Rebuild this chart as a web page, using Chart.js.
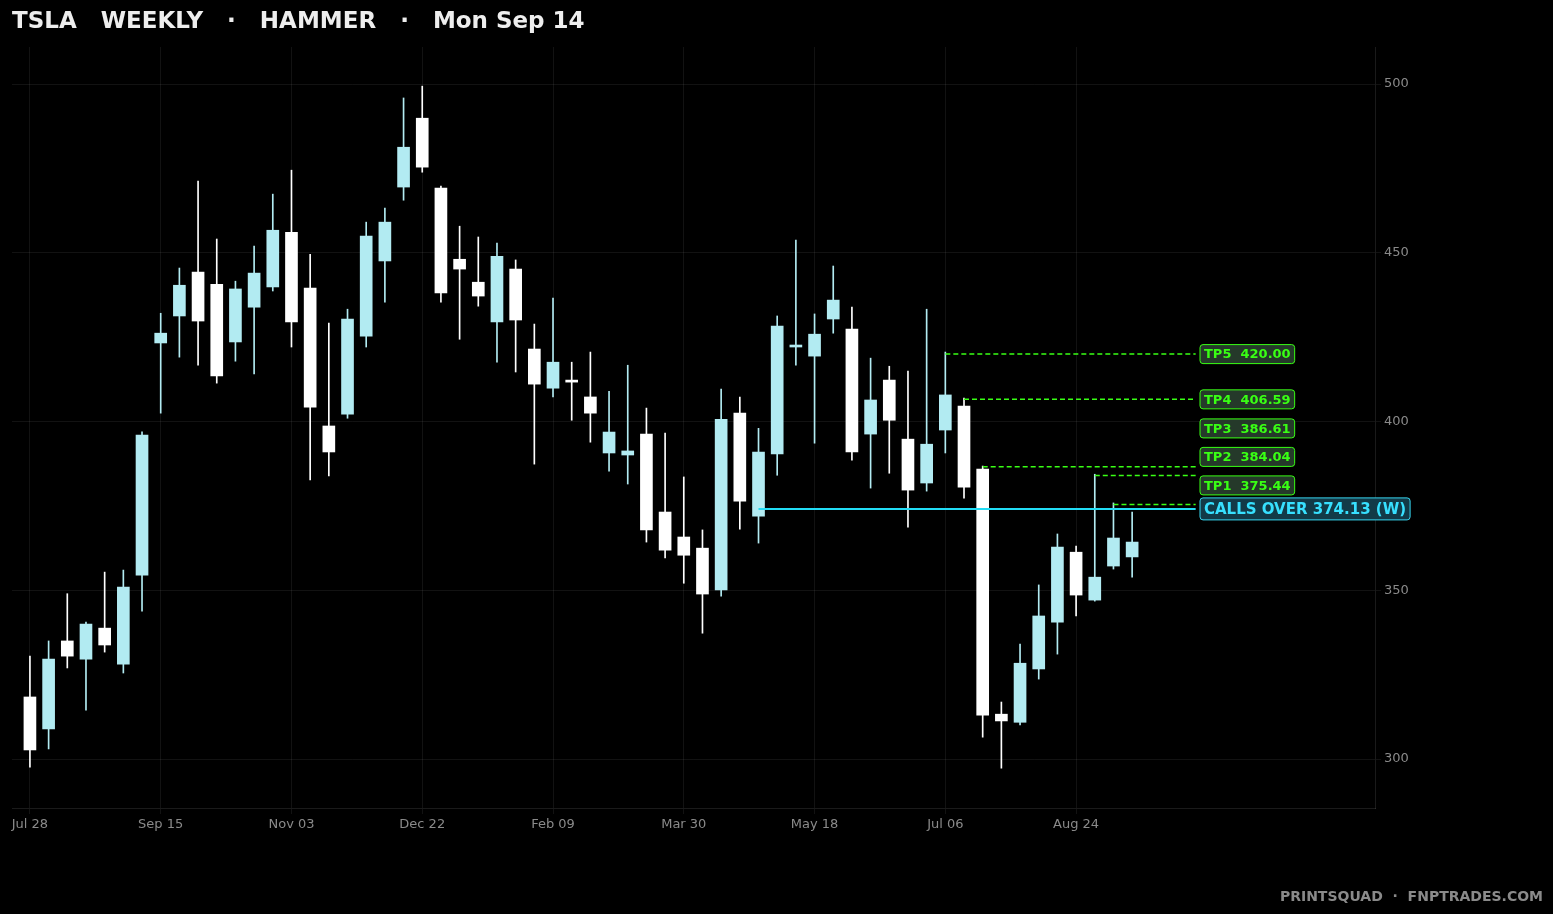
<!DOCTYPE html>
<html>
<head>
<meta charset="utf-8">
<script src="https://cdn.jsdelivr.net/npm/chart.js@4.4.1/dist/chart.umd.min.js"></script>
<style>
  html, body { margin: 0; padding: 0; background: #000; }
  #wrap { width: 1553px; height: 914px; }
</style>
</head>
<body>
<div id="wrap"><canvas id="chart" width="1553" height="914"></canvas></div>
<script>
// weekly candles, Jul 28 onwards
const opens  = [318.4,308.9,335.0,329.6,338.8,328.1,354.5,423.3,431.3,444.3,440.7,423.6,433.9,439.9,456.1,439.6,398.7,402.2,425.3,447.6,
                469.5,489.9,469.2,448.1,441.3,429.5,445.2,421.5,409.9,412.3,407.3,390.7,390.1,396.3,373.2,365.8,362.5,350.1,402.5,372.0,
                390.4,422.1,419.4,430.4,427.4,396.3,412.3,394.8,381.8,397.5,404.6,385.9,313.3,310.9,326.7,340.6,361.3,347.1,357.2,359.9];
const highs  = [330.5,335.0,349.0,340.6,355.4,356.0,397.0,432.1,445.5,471.3,454.1,441.6,452.0,467.4,474.5,449.6,429.2,433.3,459.1,463.3,
                495.9,499.4,469.8,457.9,454.7,452.9,447.9,428.9,436.6,417.6,420.6,409.0,416.7,404.0,396.6,383.6,367.9,409.6,407.3,398.0,
                431.3,453.8,431.9,446.1,433.9,418.8,416.4,415.0,433.3,420.6,407.0,386.8,316.9,334.1,351.6,366.7,363.1,384.4,375.9,373.2];
const lows   = [297.6,303.0,327.0,314.5,331.7,325.5,343.8,402.5,419.1,416.7,411.4,417.9,414.1,438.7,422.1,382.7,383.9,401.0,422.1,435.4,
                465.6,473.9,435.4,424.4,434.2,417.6,414.7,387.4,407.3,400.4,393.9,385.3,381.5,364.3,359.6,352.1,337.3,348.3,368.1,364.0,
                384.1,416.7,393.6,426.2,388.6,380.3,384.7,368.7,379.4,390.7,377.3,306.5,297.3,310.1,323.7,331.1,342.4,346.8,356.3,353.9];
const closes = [302.7,329.6,330.5,340.0,333.8,351.0,396.0,426.2,440.4,429.8,413.5,439.3,444.0,456.7,429.5,404.3,391.0,430.4,455.0,459.1,
                481.3,475.4,438.1,445.2,437.2,449.0,430.1,411.1,417.6,411.7,402.5,396.9,391.3,367.9,361.9,360.4,348.9,400.7,376.4,391.0,
                428.3,422.4,425.9,436.0,391.0,406.4,400.4,379.7,393.3,407.9,380.6,313.0,311.3,328.4,342.4,362.8,348.6,353.9,365.5,364.3];

const tickLabels = ['Jul 28','Sep 15','Nov 03','Dec 22','Feb 09','Mar 30','May 18','Jul 06','Aug 24'];
const yTicks = [300, 350, 400, 450, 500];

// levels: name, price, start candle index
const levelNames  = ['TP5','TP4','TP3','TP2','TP1'];
const levelPrices = [420.00, 406.59, 386.61, 384.04, 375.44];
const levelStarts = [49, 50, 51, 57, 58];
const callsPrice = 374.13;
const callsStart = 39;
const levelEnd = 62.4;

const UP = '#b2ebf2';
const DOWN = '#ffffff';
const colors = opens.map((o, i) => closes[i] >= o ? UP : DOWN);

const bodies = opens.map((o, i) => ({ x: i, y: [o, closes[i]] }));
const wicks = opens.map((o, i) => ({ x: i, y: [lows[i], highs[i]] }));

const levelSets = levelNames.map((n, k) => ({
  type: 'line',
  data: [{ x: levelStarts[k], y: levelPrices[k] }, { x: levelEnd, y: levelPrices[k] }],
  borderColor: '#39ff14', borderWidth: 1.5, borderDash: [5, 3],
  pointRadius: 0, fill: false
}));

const labelPlugin = {
  id: 'labels',
  afterDraw(chart) {
    const { ctx, scales } = chart;
    const y = scales.y;
    ctx.save();
    // title
    ctx.fillStyle = '#eeeeee';
    ctx.font = 'bold 23px "DejaVu Sans"';
    ctx.textBaseline = 'middle';
    ctx.textAlign = 'left';
    ctx.fillText('TSLA   WEEKLY   ·   HAMMER   ·   Mon Sep 14', 12, 22);
    // footer
    ctx.fillStyle = '#8a8a8a';
    ctx.font = 'bold 14px "DejaVu Sans"';
    ctx.textAlign = 'right';
    ctx.fillText('PRINTSQUAD  ·  FNPTRADES.COM', 1543, 897);

    // boxes, pushed apart from the bottom up
    const items = [{ text: 'CALLS OVER ' + callsPrice.toFixed(2) + ' (W)', price: callsPrice, calls: true }];
    for (let k = levelNames.length - 1; k >= 0; k--) {
      items.push({ text: levelNames[k] + '  ' + levelPrices[k].toFixed(2), price: levelPrices[k] });
    }
    let prev = null;
    items.forEach((it, i) => {
      let py = y.getPixelForValue(it.price);
      if (prev !== null) py = Math.min(py, prev - (i === 1 ? 23.5 : 28.5));
      it.py = py;
      prev = py;
    });
    items.forEach(it => {
      ctx.font = it.calls ? 'bold 15px "DejaVu Sans"' : 'bold 13px "DejaVu Sans"';
      const w = ctx.measureText(it.text).width + 8;
      const h = it.calls ? 22 : 19;
      const x0 = 1200;
      ctx.beginPath();
      ctx.roundRect(x0, it.py - h / 2, w, h, 3);
      ctx.fillStyle = it.calls ? '#123a48' : '#25392a';
      ctx.fill();
      ctx.lineWidth = 1;
      ctx.strokeStyle = it.calls ? '#37d6f0' : '#39ff14';
      ctx.stroke();
      ctx.fillStyle = it.calls ? '#37e0ff' : '#39ff14';
      ctx.textAlign = 'left';
      ctx.fillText(it.text, x0 + 4, it.py + 1);
    });
    ctx.restore();
  }
};

new Chart(document.getElementById('chart'), {
  data: {
    datasets: [
      { type: 'bar', data: wicks, backgroundColor: colors, barThickness: 1, grouped: false, order: 2 },
      { type: 'bar', data: bodies, backgroundColor: colors, barThickness: 12, grouped: false, minBarLength: 2, order: 1 },
      ...levelSets,
      {
        type: 'line',
        data: [{ x: callsStart, y: callsPrice }, { x: levelEnd, y: callsPrice }],
        borderColor: '#22dcf5', borderWidth: 2, pointRadius: 0, fill: false
      }
    ]
  },
  options: {
    responsive: false,
    animation: false,
    layout: { padding: { left: 12, top: 47, right: 0, bottom: 0 } },
    plugins: { legend: { display: false }, tooltip: { enabled: false } },
    scales: {
      x: {
        type: 'linear', min: -0.96, max: 72, offset: false,
        afterBuildTicks: axis => { axis.ticks = tickLabels.map((_, i) => ({ value: i * 7 })); },
        afterFit: axis => { axis.height = 106; },
        ticks: {
          color: '#8a8a8a', font: { family: 'DejaVu Sans', size: 13 }, maxRotation: 0,
          callback: v => tickLabels[v / 7]
        },
        grid: { color: 'rgba(255,255,255,0.07)', offset: false, tickLength: 6 },
        border: { color: 'rgba(255,255,255,0.1)' }
      },
      y: {
        position: 'right', min: 285.5, max: 511,
        afterBuildTicks: axis => { axis.ticks = yTicks.map(v => ({ value: v })); },
        afterFit: axis => { axis.width = 178; },
        ticks: { color: '#8a8a8a', font: { family: 'DejaVu Sans', size: 13 } },
        grid: { color: 'rgba(255,255,255,0.07)', tickLength: 6 },
        border: { color: 'rgba(255,255,255,0.1)' }
      }
    }
  },
  plugins: [labelPlugin]
});
</script>
</body>
</html>
